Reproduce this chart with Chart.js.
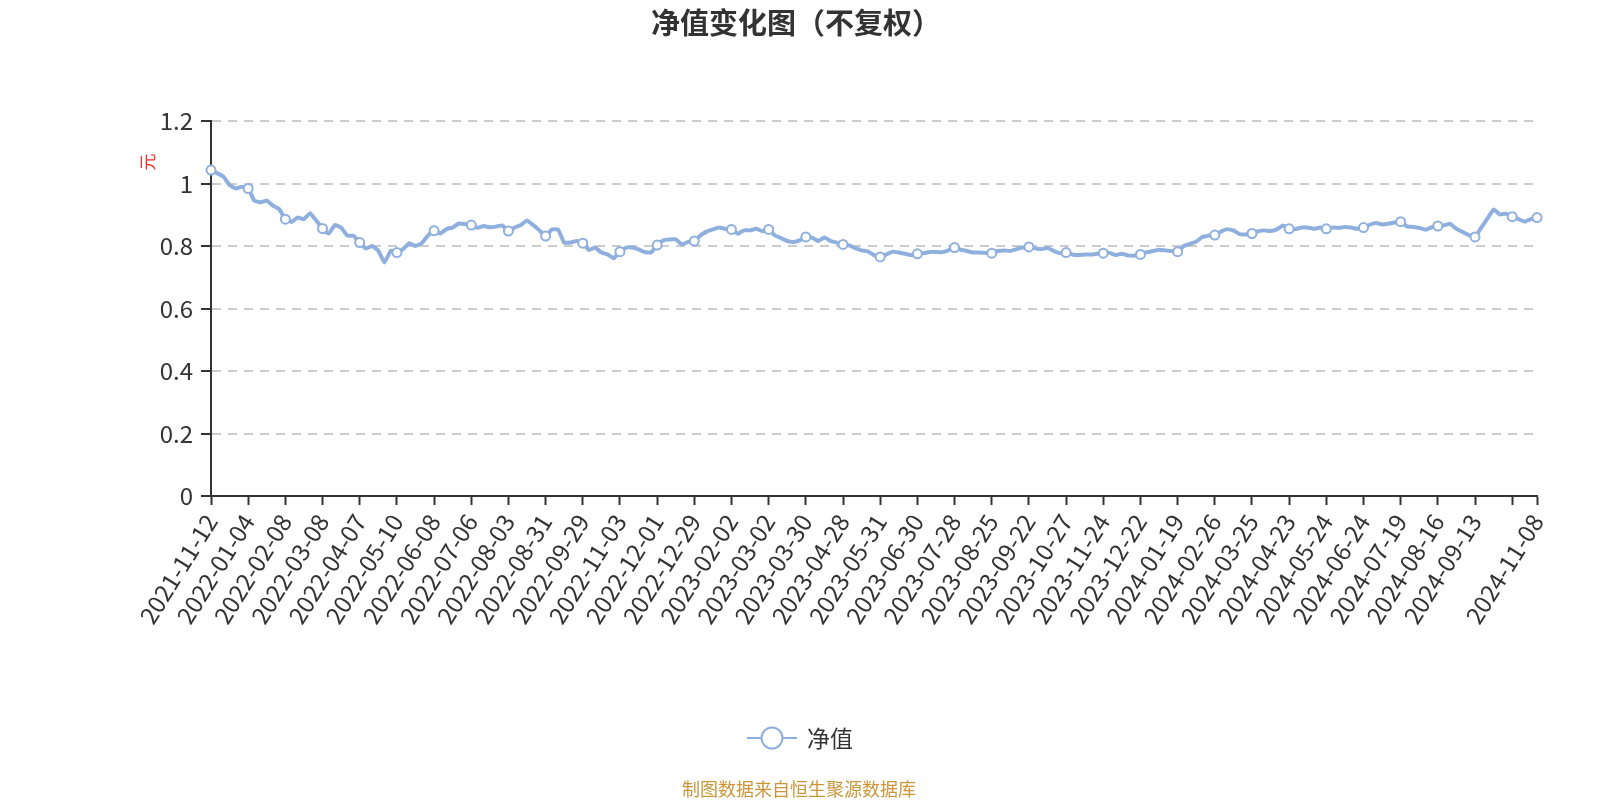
<!DOCTYPE html>
<html>
<head>
<meta charset="utf-8">
<title>净值变化图</title>
<script src="https://cdn.jsdelivr.net/npm/chart.js@4"></script>
<style>
    body { margin: 0; background: #fff; }
    #wrap { width: 1600px; height: 800px; }
</style>
</head>
<body>
<div id="wrap"><canvas id="chartCanvas"></canvas></div>
<script>
// dates shown under the axis, one every 6 points
const tickDates = [
    "2021-11-12", "2022-01-04", "2022-02-08", "2022-03-08", "2022-04-07", "2022-05-10",
    "2022-06-08", "2022-07-06", "2022-08-03", "2022-08-31", "2022-09-29", "2022-11-03",
    "2022-12-01", "2022-12-29", "2023-02-02", "2023-03-02", "2023-03-30", "2023-04-28",
    "2023-05-31", "2023-06-30", "2023-07-28", "2023-08-25", "2023-09-22", "2023-10-27",
    "2023-11-24", "2023-12-22", "2024-01-19", "2024-02-26", "2024-03-25", "2024-04-23",
    "2024-05-24", "2024-06-24", "2024-07-19", "2024-08-16", "2024-09-13"
];
const lastDate = "2024-11-08";
const tickEvery = 6;

// 净值 (元)
const nav = [
    1.043, 1.033, 1.022, 0.995, 0.984, 0.99, 0.984, 0.945, 0.94, 0.945,
    0.929, 0.918, 0.886, 0.877, 0.891, 0.886, 0.905, 0.881, 0.856, 0.84,
    0.867, 0.859, 0.833, 0.833, 0.811, 0.792, 0.80, 0.785, 0.747, 0.785,
    0.779, 0.79, 0.809, 0.80, 0.809, 0.833, 0.849, 0.84, 0.854, 0.859,
    0.872, 0.87, 0.867, 0.858, 0.864, 0.86, 0.862, 0.866, 0.848, 0.859,
    0.867, 0.882, 0.867, 0.85, 0.832, 0.853, 0.853, 0.811, 0.811, 0.816,
    0.809, 0.787, 0.795, 0.779, 0.773, 0.761, 0.782, 0.795, 0.795, 0.789,
    0.781, 0.779, 0.803, 0.818, 0.821, 0.821, 0.805, 0.813, 0.816, 0.834,
    0.846, 0.853, 0.859, 0.855, 0.853, 0.839, 0.85, 0.85, 0.855, 0.847,
    0.853, 0.834, 0.825, 0.816, 0.813, 0.818, 0.829, 0.827, 0.816, 0.827,
    0.816, 0.811, 0.805, 0.802, 0.793, 0.786, 0.783, 0.771, 0.765, 0.773,
    0.782, 0.779, 0.775, 0.771, 0.775, 0.777, 0.781, 0.781, 0.78, 0.786,
    0.795, 0.788, 0.784, 0.779, 0.779, 0.778, 0.777, 0.784, 0.786, 0.784,
    0.79, 0.795, 0.797, 0.793, 0.79, 0.794, 0.784, 0.777, 0.779, 0.773,
    0.771, 0.773, 0.773, 0.775, 0.777, 0.778, 0.771, 0.775, 0.77, 0.769,
    0.773, 0.78, 0.784, 0.788, 0.786, 0.784, 0.782, 0.80, 0.807, 0.814,
    0.829, 0.833, 0.835, 0.846, 0.854, 0.85, 0.838, 0.837, 0.84, 0.847,
    0.85, 0.848, 0.853, 0.866, 0.855, 0.854, 0.859, 0.859, 0.855, 0.859,
    0.855, 0.859, 0.858, 0.861, 0.859, 0.855, 0.859, 0.868, 0.874, 0.869,
    0.871, 0.875, 0.878, 0.863, 0.861, 0.858, 0.852, 0.86, 0.864, 0.866,
    0.871, 0.855, 0.845, 0.835, 0.829, 0.859, 0.888, 0.917, 0.901, 0.903,
    0.894, 0.886, 0.878, 0.886, 0.891
];

const yTicks = [0, 0.2, 0.4, 0.6, 0.8, 1, 1.2];

const FONT = "'Noto Sans CJK SC', 'Noto Sans', sans-serif";
const LINE_COLOR = "#8fb0df";
const last = nav.length - 1;

const labels = nav.map((v, i) => (i % tickEvery === 0 && tickDates[i / tickEvery]) ? tickDates[i / tickEvery] : "");
labels[last] = lastDate;

function isTick(i) {
    return i % tickEvery === 0 || i === last;
}

// title, unit, legend and source line
const decorPlugin = {
    id: "decor",
    afterDraw(chart) {
        const ctx = chart.ctx;
        const area = chart.chartArea;
        ctx.save();

        ctx.fillStyle = "#333";
        ctx.font = "bold 29px " + FONT;
        ctx.textAlign = "center";
        ctx.textBaseline = "middle";
        ctx.fillText("净值变化图（不复权）", 796, 23);

        // unit
        ctx.save();
        ctx.translate(148, area.top + 41);
        ctx.rotate(-Math.PI / 2);
        ctx.fillStyle = "#ff2a2a";
        ctx.font = "17px " + FONT;
        ctx.fillText("元", 0, 0);
        ctx.restore();

        // legend
        const ly = 738;
        ctx.strokeStyle = LINE_COLOR;
        ctx.lineWidth = 2;
        ctx.beginPath();
        ctx.moveTo(747, ly);
        ctx.lineTo(797, ly);
        ctx.stroke();
        ctx.beginPath();
        ctx.arc(772, ly, 10.5, 0, Math.PI * 2);
        ctx.fillStyle = "#fff";
        ctx.fill();
        ctx.stroke();
        ctx.fillStyle = "#333";
        ctx.font = "23px " + FONT;
        ctx.textAlign = "left";
        ctx.fillText("净值", 807, ly);

        // source
        ctx.fillStyle = "#c9973a";
        ctx.font = "18px " + FONT;
        ctx.textAlign = "center";
        ctx.fillText("制图数据来自恒生聚源数据库", 799, 789);

        ctx.restore();
    }
};

const ctx = document.getElementById("chartCanvas").getContext("2d");

new Chart(ctx, {
    type: "line",
    data: {
        labels: labels,
        datasets: [{
            label: "净值",
            data: nav,
            borderColor: LINE_COLOR,
            borderWidth: 4,
            tension: 0.1,
            fill: false,
            clip: false,
            pointRadius: c => isTick(c.dataIndex) ? 4.5 : 0,
            pointBackgroundColor: "#fff",
            pointBorderColor: LINE_COLOR,
            pointBorderWidth: 2
        }]
    },
    options: {
        responsive: true,
        maintainAspectRatio: false,
        animation: false,
        events: [],
        layout: { padding: { left: 0, right: 63, top: 121, bottom: 0 } },
        plugins: {
            legend: { display: false },
            tooltip: { enabled: false }
        },
        scales: {
            x: {
                type: "category",
                offset: false,
                afterFit: s => { s.height = 304; s.paddingLeft = 0; s.paddingRight = 0; },
                grid: {
                    drawOnChartArea: false,
                    drawTicks: true,
                    tickLength: 9,
                    tickColor: "#333",
                    tickWidth: 2
                },
                border: { color: "#333", width: 2 },
                ticks: {
                    autoSkip: false,
                    minRotation: 58,
                    maxRotation: 58,
                    padding: 4,
                    color: "#333",
                    font: { family: FONT, size: 24 },
                    callback: (val, i) => isTick(i) ? labels[i] : null
                }
            },
            y: {
                min: 0,
                max: 1.2,
                afterFit: s => { s.width = 211; s.paddingTop = 0; s.paddingBottom = 0; },
                afterBuildTicks: s => { s.ticks = yTicks.map(v => ({ value: v })); },
                grid: {
                    color: c => c.tick && c.tick.value === 0 ? "rgba(0,0,0,0)" : "#cccccc",
                    lineWidth: 2,
                    tickLength: 10,
                    tickColor: "#333",
                    tickWidth: 2,
                    tickBorderDash: []
                },
                border: { color: "#333", width: 2, dash: [9, 7] },
                ticks: {
                    padding: 8,
                    color: "#333",
                    font: { family: FONT, size: 24 },
                    callback: v => String(Math.round(v * 10) / 10)
                }
            }
        }
    },
    plugins: [decorPlugin]
});
</script>
</body>
</html>
